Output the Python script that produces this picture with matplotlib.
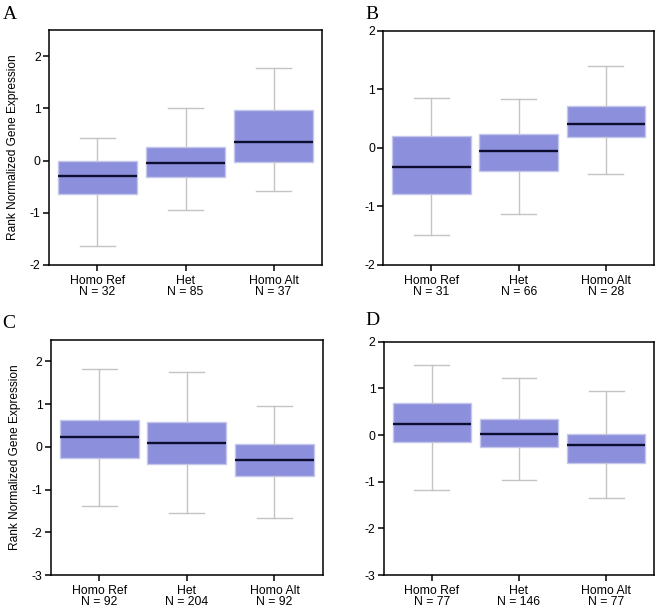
import matplotlib
matplotlib.use("Agg")
import matplotlib.pyplot as plt

plt.rcParams['font.family'] = ['Liberation Sans', 'DejaVu Sans']

# genotype groups
groups = ['Homo Ref', 'Het', 'Homo Alt']

# per panel: sample sizes and box stats (whisker low, q1, median, q3, whisker high)
n_A = [32, 85, 37]
lo_A = [-1.63, -0.95, -0.59]
q1_A = [-0.65, -0.32, -0.02]
med_A = [-0.30, -0.05, 0.35]
q3_A = [0.00, 0.25, 0.97]
hi_A = [0.43, 1.00, 1.78]

n_B = [31, 66, 28]
lo_B = [-1.49, -1.13, -0.44]
q1_B = [-0.79, -0.39, 0.19]
med_B = [-0.32, -0.05, 0.41]
q3_B = [0.20, 0.23, 0.71]
hi_B = [0.85, 0.84, 1.39]

n_C = [92, 204, 92]
lo_C = [-1.38, -1.55, -1.66]
q1_C = [-0.25, -0.40, -0.69]
med_C = [0.24, 0.09, -0.31]
q3_C = [0.63, 0.57, 0.06]
hi_C = [1.81, 1.74, 0.95]

n_D = [77, 146, 77]
lo_D = [-1.17, -0.97, -1.34]
q1_D = [-0.14, -0.26, -0.59]
med_D = [0.23, 0.03, -0.21]
q3_D = [0.68, 0.34, 0.02]
hi_D = [1.50, 1.23, 0.95]

panels = [
    ('A', n_A, lo_A, q1_A, med_A, q3_A, hi_A, (-2, 2.5), [-2, -1, 0, 1, 2]),
    ('B', n_B, lo_B, q1_B, med_B, q3_B, hi_B, (-2, 2), [-2, -1, 0, 1, 2]),
    ('C', n_C, lo_C, q1_C, med_C, q3_C, hi_C, (-3, 2.5), [-3, -2, -1, 0, 1, 2]),
    ('D', n_D, lo_D, q1_D, med_D, q3_D, hi_D, (-3, 2), [-3, -2, -1, 0, 1, 2]),
]

# axes rectangles and letter positions (figure fractions)
rects = [
    [0.0745, 0.5649, 0.4149, 0.3859],
    [0.5825, 0.5649, 0.4114, 0.3847],
    [0.0775, 0.0558, 0.4129, 0.3859],
    [0.5836, 0.0558, 0.4103, 0.3831],
]
letter_pos = [(0.004, 0.990), (0.555, 0.990), (0.004, 0.482), (0.556, 0.487)]

fig = plt.figure(figsize=(6.58, 6.09), dpi=100)

for i, (letter, n, lo, q1, med, q3, hi, ylim, yticks) in enumerate(panels):
    ax = fig.add_axes(rects[i])
    stats = []
    for j in range(len(groups)):
        stats.append({'whislo': lo[j], 'q1': q1[j], 'med': med[j],
                      'q3': q3[j], 'whishi': hi[j], 'fliers': []})
    ax.bxp(stats, positions=[1, 2, 3], widths=0.9, patch_artist=True,
           showfliers=False,
           boxprops=dict(facecolor='#8b8fdc', edgecolor='#c4c6ea', linewidth=1.0),
           medianprops=dict(color='#0d0d30', linewidth=1.7),
           whiskerprops=dict(color='#c4c4c4', linewidth=1.0),
           capprops=dict(color='#c4c4c4', linewidth=1.0),
           capwidths=0.4)
    ax.set_xlim(0.45, 3.55)
    ax.set_ylim(*ylim)
    ax.set_yticks(yticks)
    ax.set_yticklabels([str(t) for t in yticks])
    ax.set_xticks([1, 2, 3])
    ax.set_xticklabels(['%s\nN = %d' % (g, k) for g, k in zip(groups, n)],
                       linespacing=0.9)
    ax.tick_params(axis='both', direction='out', length=4, width=1.1,
                   labelsize=8.8, pad=2)
    ax.tick_params(axis='x', pad=3)
    for s in ax.spines.values():
        s.set_linewidth(1.1)
        s.set_color('black')
    if i % 2 == 0:
        ax.set_ylabel('Rank Normalized Gene Expression', fontsize=8.6, labelpad=8)
    fig.text(letter_pos[i][0], letter_pos[i][1], letter, family='Liberation Serif',
             fontsize=14, va='top', ha='left')

fig.savefig('out.png', dpi=100)
